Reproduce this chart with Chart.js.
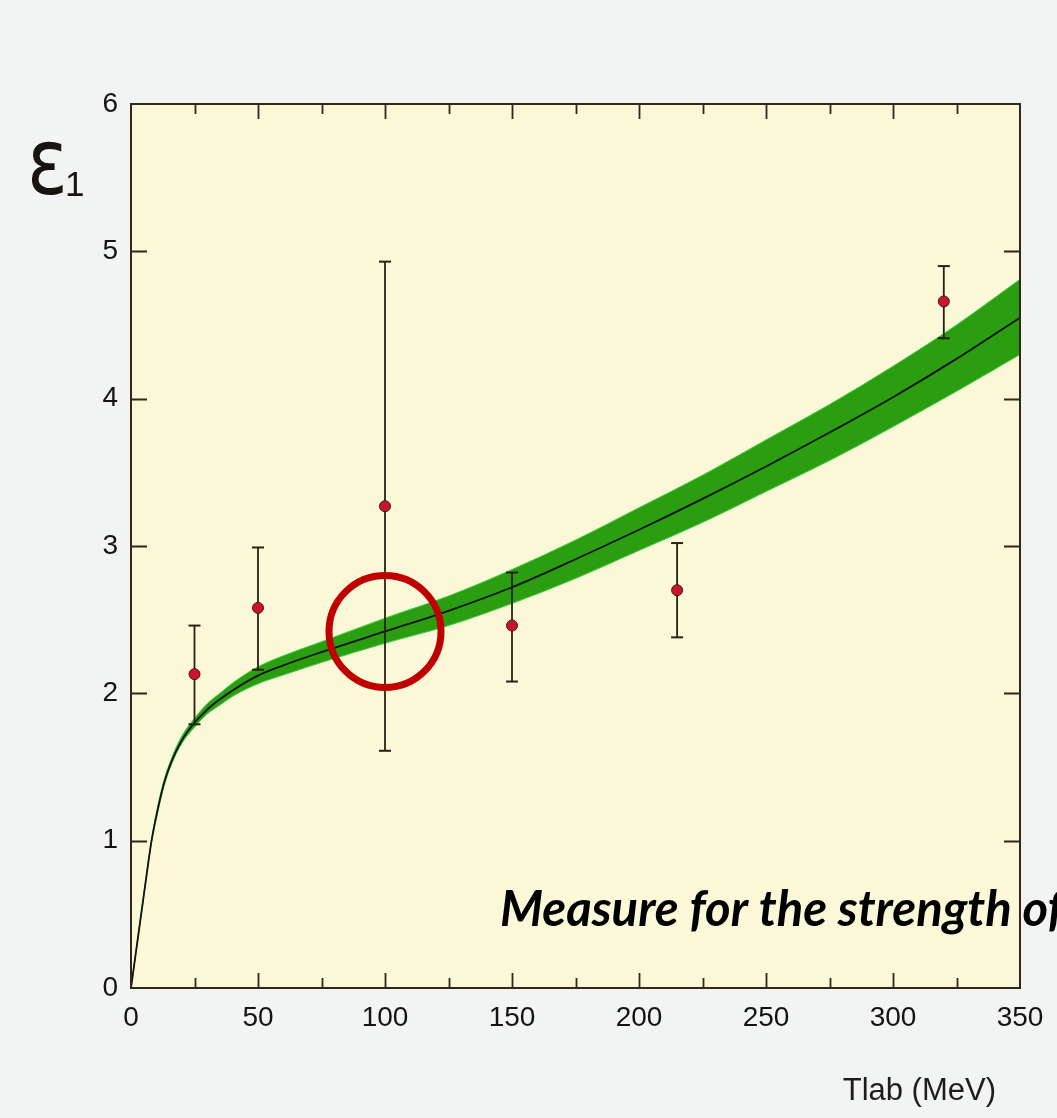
<!DOCTYPE html>
<html>
<head>
<meta charset="utf-8">
<script src="https://cdn.jsdelivr.net/npm/chart.js@4.4.1/dist/chart.umd.min.js"></script>
<style>
  html, body { margin: 0; padding: 0; background: #f2f4f3; }
  #wrap { width: 1057px; height: 1118px; }
</style>
</head>
<body>
<div id="wrap"><canvas id="myChart" width="1057" height="1118"></canvas></div>
<script>
// theory curve (central value) and the green band
var curveX = [0, 2, 4, 6, 8, 10, 13, 16, 20, 25, 30, 35, 40, 50, 60, 75, 100, 125, 150, 175, 200, 225, 250, 275, 300, 325, 350];
var curveY = [0, 0.25, 0.5, 0.75, 0.99, 1.17, 1.39, 1.54, 1.68, 1.8, 1.89, 1.96, 2.02, 2.12, 2.19, 2.28, 2.42, 2.56, 2.72, 2.91, 3.11, 3.32, 3.54, 3.77, 4.01, 4.27, 4.55];
var bandHigh = [0, 0.25, 0.51, 0.76, 1.0, 1.19, 1.41, 1.56, 1.71, 1.83, 1.93, 2.0, 2.07, 2.18, 2.255, 2.35, 2.51, 2.66, 2.84, 3.04, 3.26, 3.48, 3.72, 3.96, 4.22, 4.5, 4.81];
var bandLow = [0, 0.25, 0.49, 0.74, 0.98, 1.15, 1.37, 1.52, 1.66, 1.77, 1.86, 1.92, 1.98, 2.065, 2.125, 2.21, 2.34, 2.46, 2.61, 2.78, 2.97, 3.16, 3.37, 3.58, 3.81, 4.05, 4.3];

// measured points with error bars
var pointX = [25, 50, 100, 150, 215, 320];
var pointY = [2.13, 2.58, 3.27, 2.46, 2.70, 4.66];
var errLow = [1.79, 2.16, 1.61, 2.08, 2.38, 4.41];
var errHigh = [2.46, 2.99, 4.93, 2.82, 3.02, 4.90];

// highlighted spot
var markX = [100];
var markY = [2.42];

var xTicks = [0, 50, 100, 150, 200, 250, 300, 350];
var yTicks = [0, 1, 2, 3, 4, 5, 6];

function toXY(xs, ys) {
    var out = [];
    for (var i = 0; i < xs.length; i++) {
        out.push({ x: xs[i], y: ys[i] });
    }
    return out;
}

function errorSegments() {
    var out = [];
    for (var i = 0; i < pointX.length; i++) {
        out.push({ x: pointX[i], y: errLow[i] });
        out.push({ x: pointX[i], y: errHigh[i] });
        out.push({ x: pointX[i], y: null });
    }
    return out;
}

var frameColor = '#33261b';

var decor = {
    id: 'decor',
    beforeDraw: function (chart) {
        var ctx = chart.ctx;
        var a = chart.chartArea;
        ctx.save();
        ctx.fillStyle = '#f2f4f3';
        ctx.fillRect(0, 0, chart.width, chart.height);
        ctx.fillStyle = '#fbf8d7';
        ctx.fillRect(a.left, a.top, a.right - a.left, a.bottom - a.top);
        ctx.restore();
    },
    afterDraw: function (chart) {
        var ctx = chart.ctx;
        var a = chart.chartArea;
        var xs = chart.scales.x;
        var ys = chart.scales.y;
        ctx.save();

        // annotation (runs past the frame, cut by the page edge)
        ctx.font = 'italic bold 49px Lato';
        ctx.textAlign = 'left';
        ctx.textBaseline = 'alphabetic';
        ctx.fillStyle = '#000';
        ctx.fillText('Measure for the strength of', 500, 926);

        ctx.strokeStyle = frameColor;
        ctx.lineWidth = 2;
        ctx.strokeRect(a.left, a.top, a.right - a.left, a.bottom - a.top);

        // inward ticks, minor every 25 on x
        ctx.lineWidth = 1.8;
        ctx.beginPath();
        xs.ticks.forEach(function (t) {
            var px = Math.round(xs.getPixelForValue(t.value)) + 0.5;
            var len = (t.value % 50 === 0) ? 15 : 10;
            if (t.value === 0 || t.value === 350) return;
            ctx.moveTo(px, a.bottom);
            ctx.lineTo(px, a.bottom - len);
            ctx.moveTo(px, a.top);
            ctx.lineTo(px, a.top + len);
        });
        ys.ticks.forEach(function (t) {
            var py = Math.round(ys.getPixelForValue(t.value)) + 0.5;
            if (t.value === 0 || t.value === 6) return;
            ctx.moveTo(a.left, py);
            ctx.lineTo(a.left + 16, py);
            ctx.moveTo(a.right, py);
            ctx.lineTo(a.right - 16, py);
        });
        ctx.stroke();

        // y axis symbol
        ctx.fillStyle = '#1a1410';
        ctx.save();
        ctx.translate(27, 194);
        ctx.scale(0.82, 1);
        ctx.font = '500 92px "DejaVu Sans"';
        ctx.fillText('ε', 0, 0);
        ctx.restore();
        ctx.font = '35px "Liberation Sans"';
        ctx.fillText('1', 65, 196);

        // x axis title
        ctx.font = '31px "Liberation Sans"';
        ctx.textAlign = 'right';
        ctx.fillStyle = '#1d1d1d';
        ctx.fillText('Tlab (MeV)', 996, 1100);
        ctx.restore();
    }
};

var ctx = document.getElementById('myChart').getContext('2d');
var myChart = new Chart(ctx, {
    type: 'line',
    data: {
        datasets: [{
            label: 'band high',
            data: toXY(curveX, bandHigh),
            borderColor: '#3dcb42',
            borderWidth: 1,
            backgroundColor: '#2a9e10',
            pointRadius: 0,
            fill: '+1',
            order: 6,
            cubicInterpolationMode: 'monotone'
        }, {
            label: 'band low',
            data: toXY(curveX, bandLow),
            borderColor: '#3dcb42',
            borderWidth: 1,
            pointRadius: 0,
            fill: false,
            order: 5,
            cubicInterpolationMode: 'monotone'
        }, {
            label: 'central',
            data: toXY(curveX, curveY),
            borderColor: '#111111',
            borderWidth: 1.8,
            pointRadius: 0,
            fill: false,
            order: 4,
            cubicInterpolationMode: 'monotone'
        }, {
            label: 'errors',
            data: errorSegments(),
            borderColor: '#2b2016',
            borderWidth: 1.8,
            pointStyle: 'line',
            pointRadius: 6,
            pointBorderWidth: 2,
            pointBorderColor: '#2b2016',
            spanGaps: false,
            fill: false,
            order: 3
        }, {
            label: 'data',
            data: toXY(pointX, pointY),
            showLine: false,
            pointRadius: 5.5,
            pointBackgroundColor: '#c8152d',
            pointBorderColor: '#4a1212',
            pointBorderWidth: 1,
            order: 2
        }, {
            label: 'mark',
            data: toXY(markX, markY),
            showLine: false,
            pointRadius: 56,
            pointBorderWidth: 7,
            pointBorderColor: '#c00000',
            pointBackgroundColor: 'rgba(0,0,0,0)',
            order: 1
        }]
    },
    options: {
        responsive: false,
        animation: false,
        events: [],
        layout: { autoPadding: false, padding: { left: 0, top: 104, right: 37, bottom: 0 } },
        plugins: {
            legend: { display: false },
            tooltip: { enabled: false }
        },
        scales: {
            x: {
                type: 'linear',
                min: 0,
                max: 350,
                grid: { display: false, drawTicks: false },
                border: { display: false },
                ticks: {
                    stepSize: 25,
                    autoSkip: false,
                    maxRotation: 0,
                    padding: 13,
                    color: '#141414',
                    font: { family: 'Liberation Sans', size: 28 },
                    callback: function (v) { return xTicks.indexOf(v) >= 0 ? String(v) : ''; }
                },
                afterFit: function (scale) {
                    scale.height = 130;
                    scale.paddingLeft = 0;
                    scale.paddingRight = 0;
                }
            },
            y: {
                type: 'linear',
                min: 0,
                max: 6,
                grid: { display: false, drawTicks: false },
                border: { display: false },
                ticks: {
                    stepSize: 1,
                    padding: 13,
                    color: '#141414',
                    font: { family: 'Liberation Sans', size: 28 },
                    callback: function (v) { return yTicks.indexOf(v) >= 0 ? String(v) : ''; }
                },
                afterFit: function (scale) {
                    scale.width = 131;
                    scale.paddingTop = 0;
                    scale.paddingBottom = 0;
                }
            }
        }
    },
    plugins: [decor]
});
</script>
</body>
</html>
